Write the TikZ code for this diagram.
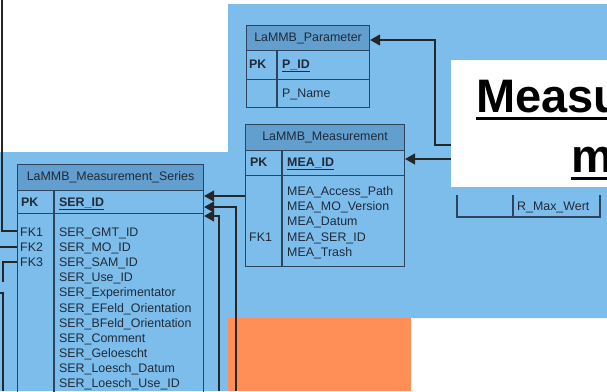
\documentclass[tikz,border=0pt]{standalone}
\usepackage{fontspec}
\setmainfont{Liberation Sans}
\usetikzlibrary{arrows.meta,positioning}
\definecolor{bgblue}{RGB}{125,189,236}
\definecolor{hdblue}{RGB}{98,158,206}
\definecolor{orng}{RGB}{255,143,86}
\definecolor{frame}{RGB}{45,68,92}
\definecolor{txt}{RGB}{32,42,56}
\tikzset{
  tblline/.style={draw=frame, line width=1.1pt},
  tblbox/.style={tblline, anchor=north west, inner sep=0pt},
  tblhead/.style={tblbox, fill=hdblue, text=txt, font=\fontsize{12.4}{15}\selectfont},
  field/.style={anchor=base west, inner sep=0pt, text=txt, font=\fontsize{12.4}{15}\selectfont},
  keyfield/.style={field, font=\fontsize{12.4}{15}\selectfont\bfseries},
  rel/.style={draw=black!85, line width=1.4pt},
  relarr/.style={rel, -{Triangle[length=10pt,width=11pt]}},
  titletext/.style={anchor=base west, inner sep=0pt, font=\fontsize{47}{56}\selectfont\bfseries},
}
\begin{document}
\begin{tikzpicture}[x=1pt,y=-1pt]
\useasboundingbox (0,0) rectangle (607,391);
\clip (0,0) rectangle (607,391);
% background areas
\fill[white] (0,0) rectangle (607,391);
\fill[bgblue] (0,152) -| (228,4) -| (607,318) -| (228,391) -| cycle;
\fill[orng] (228,318) rectangle (411,391);

% LaMMB_Parameter
\node[tblhead, minimum width=123, minimum height=25] (parhead) at (246,25) {LaMMB\_Parameter};
\node[tblbox, minimum width=123, minimum height=29] (parpk) at (246,50) {};
\node[tblbox, minimum width=123, minimum height=28] (parbody) at (246,79) {};
\draw[tblline] (277,50) -- (277,107);
\node[keyfield] (parpkl) at (249,68.5) {PK};
\node[keyfield] (parid) at (282,68.5) {\underline{P\_ID}};
\node[field] (parname) at (282,97.5) {P\_Name};

% LaMMB_Measurement
\node[tblhead, minimum width=159, minimum height=26] (meahead) at (245,124) {LaMMB\_Measurement};
\node[tblbox, minimum width=159, minimum height=25] (meapk) at (245,150) {};
\node[tblbox, minimum width=159, minimum height=91] (meabody) at (245,175) {};
\draw[tblline] (282,150) -- (282,266);
\node[keyfield] (meapkl) at (250,166.5) {PK};
\node[keyfield] (meaid) at (287,166.5) {\underline{MEA\_ID}};
\foreach \f [count=\i from 0] in {MEA\_Access\_Path, MEA\_MO\_Version, MEA\_Datum, MEA\_SER\_ID, MEA\_Trash}
  \node[field] (meaf\i) at (287,195.5+15.2*\i) {\f};
\node[field] (meafk) at (249,241.1) {FK1};

% LaMMB_Measurement_Series
\node[tblhead, minimum width=186, minimum height=26] (serhead) at (17,164) {LaMMB\_Measurement\_Series};
\node[tblbox, minimum width=186, minimum height=23] (serpk) at (17,190) {};
\node[tblbox, minimum width=186, minimum height=190] (serbody) at (17,213) {};
\draw[tblline] (54,190) -- (54,403);
\node[keyfield] (serpkl) at (21,206.5) {PK};
\node[keyfield] (serid) at (59,206.5) {\underline{SER\_ID}};
\foreach \f [count=\i from 0] in {SER\_GMT\_ID, SER\_MO\_ID, SER\_SAM\_ID, SER\_Use\_ID,
    SER\_Experimentator, SER\_EFeld\_Orientation, SER\_BFeld\_Orientation, SER\_Comment,
    SER\_Geloescht, SER\_Loesch\_Datum, SER\_Loesch\_Use\_ID}
  \node[field] (serf\i) at (59,236.5+15.1*\i) {\f};
\foreach \k [count=\i from 0] in {FK1, FK2, FK3}
  \node[field] (serfk\i) at (20,236.5+15.1*\i) {\k};

% partly hidden table
\draw[tblline] (457,195) |- (600,217) -- (600,195);
\draw[tblline] (513,195) -- (513,217);
\node[field] (rmax) at (517,210) {R\_Max\_Wert};

% relations
\draw[rel] (2,0) -- (2,231) -- (serbody.west |- 0,231);
\draw[rel] (0,247) -- (serbody.west |- 0,247);
\draw[rel] (serbody.west |- 0,262) -- (3,262) -- (3,282);
\draw[rel] (0,293) -- (3,293) -- (3,391);
\draw[relarr] (meabody.west |- 0,196) -- (serpk.east |- 0,196);
\draw[relarr] (236,391) -- (236,207) -- (serpk.east |- 0,207);
\draw[relarr] (219,391) -- (219,216) -- (serbody.east |- 0,216);

% title box
\node[fill=white, anchor=north west, inner sep=0pt, minimum width=156, minimum height=127] (title) at (451,60) {};
\node[titletext] (ttla) at (476,112) {Measu};
\node[titletext] (ttlb) at (571,172) {m};
\draw[line width=3pt] (ttla.base west) ++(0,6) -- ++(150,0);
\draw[line width=3pt] (ttlb.base west) ++(0,6) -- ++(50,0);
\draw[relarr] (title.west |- 0,145) -- (435,145) -- (435,40) -- (parhead.east |- 0,40);
\draw[relarr] (title.west |- 0,159) -- (meapk.east |- 0,159);
\end{tikzpicture}
\end{document}
